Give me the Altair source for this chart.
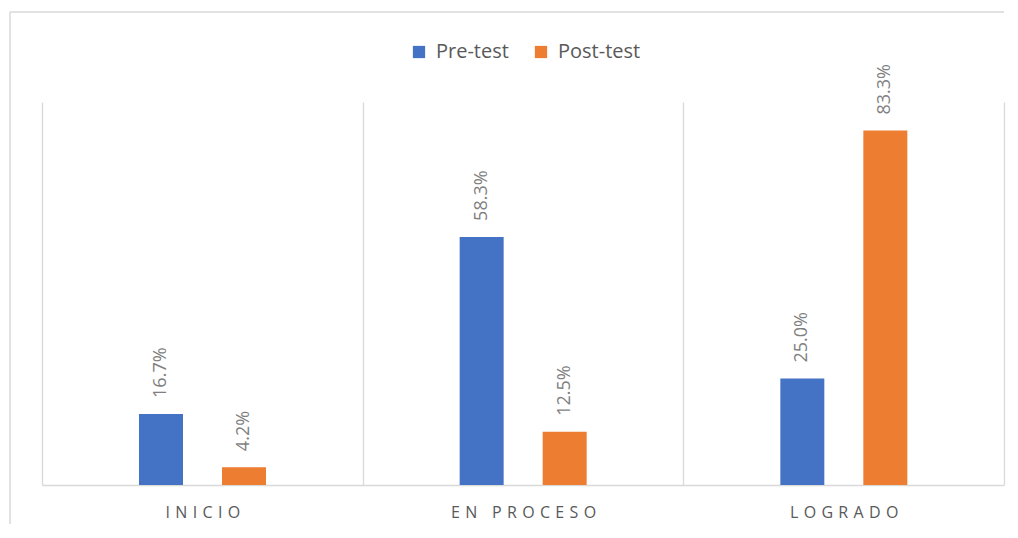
import altair as alt
import pandas as pd

categories = ["INICIO", "EN PROCESO", "LOGRADO"]
series = ["Pre-test", "Post-test"]
pre_test = [16.7, 58.3, 25.0]
post_test = [4.2, 12.5, 83.3]
colors = ["#4472C4", "#ED7D31"]

rows = []
for c, a, b in zip(categories, pre_test, post_test):
    rows.append({"cat": c, "series": "Pre-test", "value": a})
    rows.append({"cat": c, "series": "Post-test", "value": b})
df = pd.DataFrame(rows)
df["label"] = df["value"].map(lambda v: f"{v:.1f}%")

W, H = 962, 383
FONT = "Open Sans"

x = alt.X(
    "cat:N",
    sort=categories,
    scale=alt.Scale(paddingInner=0, paddingOuter=0),
    axis=alt.Axis(
        title=None,
        labelAngle=0,
        tickBand="extent",
        grid=True,
        gridColor="#d9d9d9",
        gridWidth=1.3,
        ticks=False,
        domainColor="#d9d9d9",
        domainWidth=1.5,
        labelPadding=19,
        labelFont=FONT,
        labelFontSize=16,
        labelColor="#595959",
        labelExpr="join(split(datum.label, ''), '\u2004')",
    ),
)
xo = alt.XOffset("series:N", sort=series, scale=alt.Scale(range=[97, 224], paddingInner=0.47, paddingOuter=0))
y = alt.Y("value:Q", scale=alt.Scale(domain=[0, 90]), axis=None)

base = alt.Chart(df)

bars = base.mark_bar().encode(
    x=x,
    xOffset=xo,
    y=y,
    color=alt.Color(
        "series:N",
        sort=series,
        scale=alt.Scale(domain=series, range=colors),
        legend=alt.Legend(
            title=None,
            orient="none",
            direction="horizontal",
            legendX=367,
            legendY=-60,
            symbolType="square",
            symbolSize=150,
            symbolStrokeWidth=0,
            labelFont=FONT,
            labelFontSize=20,
            labelColor="#595959",
            columnPadding=22,
            labelOffset=7,
        ),
    ),
)

labels = base.mark_text(
    angle=270, align="left", baseline="middle", dx=16,
    font=FONT, fontSize=18, color="#7f7f7f",
).encode(x=x, xOffset=xo, y=y, text="label:N")

one = pd.DataFrame({"a": [0]})
top_line = alt.Chart(one).mark_rule(color="#d9d9d9", strokeWidth=1.5, clip=False).encode(
    x=alt.value(-32), x2=alt.value(W), y=alt.value(-90)
)
left_line = alt.Chart(one).mark_rule(color="#d9d9d9", strokeWidth=1.5, clip=False).encode(
    x=alt.value(-32), y=alt.value(-90), y2=alt.value(H + 40)
)

chart = alt.layer(top_line, left_line, bars, labels).properties(
    width=W, height=H,
    autosize=alt.AutoSizeParams(type="none"),
    padding={"left": 34, "top": 94, "right": 6, "bottom": 39},
).configure_view(stroke=None)

chart.save("out.html", embed_options={"renderer": "svg", "actions": False})
